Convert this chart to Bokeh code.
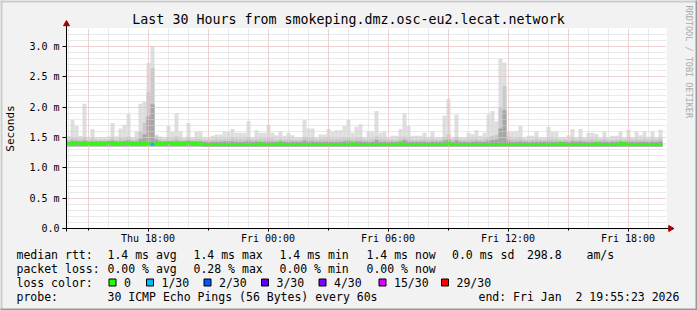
import datetime as dt
import math
from bokeh.plotting import figure
from bokeh.models import (Range1d, FixedTicker, CustomJSTickFormatter, Grid, ColumnDataSource)
from bokeh.core.properties import value
from bokeh.embed import file_html
from bokeh.resources import INLINE

# ---------------- data ----------------
TITLE = "Last 30 Hours from smokeping.dmz.osc-eu2.lecat.network"
Y_LABEL = "Seconds"
WATERMARK = "RRDTOOL / TOBI OETIKER"
START = dt.datetime(2026, 1, 1, 13, 55, 23)
END = dt.datetime(2026, 1, 2, 19, 55, 23)
STEP_MINUTES = 12

x_tick_times = ["2026-01-01 18:00", "2026-01-02 00:00", "2026-01-02 06:00",
                "2026-01-02 12:00", "2026-01-02 18:00"]
x_tick_labels = ["Thu 18:00", "Fri 00:00", "Fri 06:00", "Fri 12:00", "Fri 18:00"]
y_ticks = [0.0, 0.5, 1.0, 1.5, 2.0, 2.5, 3.0]
y_tick_labels = ["0.0", "0.5 m", "1.0 m", "1.5 m", "2.0 m", "2.5 m", "3.0 m"]

# milliseconds, one value per 12-minute step
rtt_max = [
    1.53, 1.79, 1.69, 1.53, 2.06, 1.50, 1.64, 1.50, 1.50, 1.50,
    1.52, 1.74, 1.52, 1.65, 1.71, 1.89, 1.50, 1.60, 2.06, 2.09,
    2.73, 3.01, 1.55, 1.52, 1.50, 1.69, 1.60, 1.90, 1.60, 1.50,
    1.74, 1.50, 1.60, 1.60, 1.50, 1.50, 1.53, 1.55, 1.55, 1.60,
    1.60, 1.64, 1.58, 1.58, 1.58, 1.77, 1.50, 1.62, 1.58, 1.58,
    1.71, 1.58, 1.54, 1.60, 1.53, 1.58, 1.54, 1.50, 1.50, 1.79,
    1.65, 1.65, 1.50, 1.55, 1.55, 1.64, 1.60, 1.62, 1.62, 1.69,
    1.79, 1.58, 1.68, 1.72, 1.50, 1.60, 1.60, 1.94, 1.58, 1.60,
    1.50, 1.53, 1.53, 1.64, 1.90, 1.69, 1.53, 1.53, 1.53, 1.58,
    1.50, 1.60, 1.51, 1.51, 1.86, 2.14, 1.50, 1.88, 1.50, 1.50,
    1.58, 1.56, 1.62, 1.53, 1.58, 1.88, 1.94, 1.77, 2.80, 2.74,
    1.60, 1.60, 1.60, 1.69, 1.50, 1.53, 1.53, 1.60, 1.50, 1.50,
    1.68, 1.60, 1.60, 1.50, 1.50, 1.54, 1.64, 1.50, 1.64, 1.50,
    1.58, 1.58, 1.56, 1.50, 1.60, 1.50, 1.53, 1.53, 1.60, 1.50,
    1.63, 1.50, 1.60, 1.54, 1.60, 1.50, 1.60, 1.50, 1.63,
]
rtt_p80 = [
    1.48, 1.50, 1.49, 1.48, 1.51, 1.47, 1.49, 1.47, 1.47, 1.47,
    1.47, 1.50, 1.47, 1.49, 1.49, 1.52, 1.47, 1.48, 1.60, 1.75,
    2.25, 2.65, 1.52, 1.48, 1.47, 1.49, 1.48, 1.52, 1.48, 1.47,
    1.50, 1.47, 1.48, 1.48, 1.47, 1.47, 1.47, 1.48, 1.48, 1.48,
    1.48, 1.49, 1.48, 1.48, 1.48, 1.50, 1.47, 1.48, 1.48, 1.48,
    1.49, 1.48, 1.47, 1.48, 1.47, 1.48, 1.47, 1.47, 1.47, 1.50,
    1.49, 1.49, 1.47, 1.48, 1.48, 1.49, 1.48, 1.48, 1.48, 1.49,
    1.50, 1.48, 1.49, 1.49, 1.47, 1.48, 1.48, 1.52, 1.48, 1.48,
    1.47, 1.47, 1.47, 1.49, 1.52, 1.49, 1.47, 1.47, 1.47, 1.48,
    1.47, 1.48, 1.47, 1.47, 1.51, 1.55, 1.47, 1.51, 1.47, 1.47,
    1.48, 1.48, 1.48, 1.47, 1.48, 1.51, 1.53, 1.55, 2.00, 2.35,
    1.52, 1.48, 1.48, 1.49, 1.47, 1.47, 1.47, 1.48, 1.47, 1.47,
    1.49, 1.48, 1.48, 1.47, 1.47, 1.47, 1.49, 1.47, 1.49, 1.47,
    1.48, 1.48, 1.48, 1.47, 1.48, 1.47, 1.47, 1.47, 1.48, 1.47,
    1.49, 1.47, 1.48, 1.47, 1.48, 1.47, 1.48, 1.47, 1.49,
]
rtt_p65 = [
    1.44, 1.45, 1.44, 1.44, 1.45, 1.44, 1.44, 1.44, 1.44, 1.44,
    1.44, 1.45, 1.44, 1.44, 1.44, 1.46, 1.44, 1.44, 1.48, 1.55,
    1.85, 2.05, 1.47, 1.44, 1.44, 1.44, 1.44, 1.45, 1.44, 1.44,
    1.45, 1.44, 1.44, 1.44, 1.43, 1.43, 1.43, 1.43, 1.43, 1.44,
    1.44, 1.44, 1.43, 1.43, 1.43, 1.45, 1.43, 1.44, 1.43, 1.43,
    1.44, 1.43, 1.43, 1.44, 1.43, 1.43, 1.43, 1.43, 1.43, 1.45,
    1.44, 1.44, 1.43, 1.43, 1.43, 1.44, 1.43, 1.43, 1.43, 1.44,
    1.45, 1.43, 1.44, 1.44, 1.43, 1.43, 1.43, 1.46, 1.43, 1.43,
    1.43, 1.43, 1.43, 1.44, 1.46, 1.44, 1.43, 1.43, 1.43, 1.43,
    1.43, 1.43, 1.43, 1.43, 1.45, 1.47, 1.43, 1.45, 1.43, 1.43,
    1.43, 1.43, 1.44, 1.43, 1.43, 1.45, 1.46, 1.47, 1.65, 1.95,
    1.45, 1.43, 1.43, 1.44, 1.43, 1.43, 1.43, 1.43, 1.43, 1.43,
    1.44, 1.43, 1.43, 1.43, 1.43, 1.43, 1.44, 1.43, 1.44, 1.43,
    1.43, 1.43, 1.43, 1.43, 1.43, 1.43, 1.43, 1.43, 1.44, 1.43,
    1.44, 1.43, 1.43, 1.43, 1.43, 1.43, 1.43, 1.43, 1.44,
]
rtt_median = [
    1.40, 1.40, 1.415, 1.40, 1.40, 1.40, 1.40, 1.40, 1.40, 1.40,
    1.415, 1.40, 1.40, 1.40, 1.415, 1.40, 1.40, 1.40, 1.40, 1.40,
    1.40, 1.39, 1.40, 1.40, 1.40, 1.415, 1.40, 1.40, 1.40, 1.40,
    1.415, 1.40, 1.40, 1.40, 1.387, 1.387, 1.387, 1.387, 1.387, 1.387,
    1.387, 1.387, 1.387, 1.387, 1.387, 1.387, 1.387, 1.387, 1.40, 1.387,
    1.387, 1.387, 1.387, 1.40, 1.387, 1.387, 1.387, 1.387, 1.387, 1.387,
    1.387, 1.387, 1.387, 1.387, 1.387, 1.387, 1.387, 1.387, 1.387, 1.387,
    1.387, 1.40, 1.387, 1.387, 1.387, 1.387, 1.387, 1.387, 1.387, 1.387,
    1.387, 1.387, 1.387, 1.40, 1.387, 1.387, 1.387, 1.387, 1.387, 1.387,
    1.387, 1.387, 1.387, 1.387, 1.387, 1.40, 1.387, 1.387, 1.387, 1.387,
    1.387, 1.387, 1.387, 1.387, 1.387, 1.387, 1.387, 1.387, 1.387, 1.387,
    1.387, 1.387, 1.387, 1.387, 1.387, 1.387, 1.387, 1.387, 1.387, 1.387,
    1.387, 1.387, 1.387, 1.40, 1.387, 1.387, 1.387, 1.387, 1.387, 1.387,
    1.387, 1.387, 1.40, 1.387, 1.387, 1.387, 1.387, 1.387, 1.40, 1.40,
    1.387, 1.387, 1.387, 1.387, 1.387, 1.387, 1.387, 1.387, 1.387,
]
rtt_min = [
    1.355, 1.355, 1.355, 1.355, 1.355, 1.355, 1.355, 1.355, 1.355, 1.355,
    1.355, 1.355, 1.355, 1.355, 1.355, 1.355, 1.355, 1.355, 1.355, 1.355,
    1.355, 1.355, 1.355, 1.355, 1.355, 1.355, 1.355, 1.355, 1.355, 1.355,
    1.355, 1.355, 1.355, 1.355, 1.350, 1.350, 1.350, 1.350, 1.350, 1.350,
    1.350, 1.350, 1.350, 1.350, 1.350, 1.350, 1.350, 1.350, 1.350, 1.350,
    1.350, 1.350, 1.350, 1.350, 1.350, 1.350, 1.350, 1.350, 1.350, 1.350,
    1.350, 1.350, 1.350, 1.350, 1.350, 1.350, 1.350, 1.350, 1.350, 1.350,
    1.350, 1.350, 1.350, 1.350, 1.350, 1.350, 1.350, 1.350, 1.350, 1.350,
    1.350, 1.350, 1.350, 1.350, 1.350, 1.350, 1.350, 1.350, 1.350, 1.350,
    1.350, 1.350, 1.350, 1.350, 1.350, 1.350, 1.350, 1.350, 1.350, 1.350,
    1.350, 1.350, 1.350, 1.350, 1.350, 1.350, 1.350, 1.350, 1.350, 1.350,
    1.350, 1.350, 1.350, 1.350, 1.350, 1.350, 1.350, 1.350, 1.350, 1.350,
    1.350, 1.350, 1.350, 1.350, 1.350, 1.350, 1.350, 1.350, 1.350, 1.350,
    1.350, 1.350, 1.350, 1.350, 1.350, 1.350, 1.350, 1.350, 1.350, 1.350,
    1.350, 1.350, 1.350, 1.350, 1.350, 1.350, 1.350, 1.350, 1.350,
]
loss_count = [
    0, 0, 0, 0, 0, 0, 0, 0, 0, 0,
    0, 0, 0, 0, 0, 0, 0, 0, 0, 0,
    0, 1, 0, 0, 0, 0, 0, 0, 0, 0,
    0, 0, 0, 0, 0, 0, 0, 0, 0, 0,
    0, 0, 0, 0, 0, 0, 0, 0, 0, 0,
    0, 0, 0, 0, 0, 0, 0, 0, 0, 0,
    0, 0, 0, 0, 0, 0, 0, 0, 0, 0,
    0, 0, 0, 0, 0, 0, 0, 0, 0, 0,
    0, 0, 0, 0, 0, 0, 0, 0, 0, 0,
    0, 0, 0, 0, 0, 0, 0, 0, 0, 0,
    0, 0, 0, 0, 0, 0, 0, 0, 0, 0,
    0, 0, 0, 0, 0, 0, 0, 0, 0, 0,
    0, 0, 0, 0, 0, 0, 0, 0, 0, 0,
    0, 0, 0, 0, 0, 0, 0, 0, 0, 0,
    0, 0, 0, 0, 0, 0, 0, 0, 0,
]

loss_levels = [0, 1, 2, 3, 4, 15, 29]
loss_labels = ["0", "1/30", "2/30", "3/30", "4/30", "15/30", "29/30"]
loss_colors = ["#26ff00", "#00b8ff", "#0059ff", "#5e00ff", "#7e00ff", "#dd00ff", "#ff0000"]

stats_rtt = ["1.4 ms avg", "1.4 ms max", "1.4 ms min", "1.4 ms now", "0.0 ms sd", "298.8", "am/s"]
stats_loss = ["0.00 % avg", "0.28 % max", "0.00 % min", "0.00 % now"]
probe_text = "30 ICMP Echo Pings (56 Bytes) every 60s"
end_text = "end: Fri Jan  2 19:55:23 2026"

# ---------------- layout constants ----------------
W, H = 697, 310
FL, FR, FT, FB = 66, 666, 28, 228          # frame edges in pixels
Y_MAX = 3.3
CHAR_W = 6.93                              # legend monospace advance, px
EPOCH = dt.datetime(1970, 1, 1)
def ms(t):
    return (t - EPOCH).total_seconds() * 1000.0

X0, X1 = ms(START), ms(END)
def cx(px):   # canvas pixel x -> data x
    return X0 + (px - FL) * (X1 - X0) / (FR - FL)
def cy(py):   # canvas pixel y -> data y
    return (FB - py) * Y_MAX / (FB - FT)

FONT = "DejaVu Sans Mono"
n = len(rtt_max)
left = [ms(START + dt.timedelta(minutes=STEP_MINUTES * i)) for i in range(n)]
right = [ms(START + dt.timedelta(minutes=STEP_MINUTES * (i + 1))) for i in range(n)]

def loss_color(c):
    col = loss_colors[0]
    for lv, cc in zip(loss_levels, loss_colors):
        if c >= lv:
            col = cc
    return col

src = ColumnDataSource(dict(left=left, right=right, mx=rtt_max, p80=rtt_p80, p65=rtt_p65,
                            med=rtt_median, mn=rtt_min,
                            color=[loss_color(c) for c in loss_count]))

p = figure(width=W, height=H, output_backend="svg", toolbar_location=None,
           x_range=Range1d(X0, X1), y_range=Range1d(0, Y_MAX),
           x_axis_type="datetime",
           min_border_left=FL, min_border_right=W - FR, min_border_top=FT,
           min_border_bottom=H - FB,
           background_fill_color="white", border_fill_color="#f2f2f2",
           outline_line_color=None)
p.xgrid.visible = False
p.ygrid.visible = False

# smoke
p.quad(left="left", right="right", bottom="mn", top="mx", source=src,
       fill_color="#dedede", line_color=None)
p.quad(left="left", right="right", bottom="mn", top="p80", source=src,
       fill_color="#c9c9c9", line_color=None)
p.quad(left="left", right="right", bottom="mn", top="p65", source=src,
       fill_color="#a6a6a6", line_color=None)

# grids (dotted, drawn over the smoke)
hour_ticks = []
three_hour_ticks = []
t = dt.datetime(2026, 1, 1, 14, 0)
while t <= END:
    hour_ticks.append(ms(t))
    if t.hour % 3 == 0:
        three_hour_ticks.append(ms(t))
    t += dt.timedelta(hours=1)
y_minor = [round(0.1 * k, 1) for k in range(0, 34)]

GRID_GRAY = "#d4d4d4"
GRID_RED = "#f4b8b8"
for ticks, color in ((hour_ticks, GRID_GRAY), (three_hour_ticks, GRID_RED)):
    p.add_layout(Grid(dimension=0, ticker=FixedTicker(ticks=ticks), grid_line_color=color,
                      grid_line_dash="1 1", grid_line_width=1, level="guide"))
for ticks, color in ((y_minor, GRID_GRAY), (y_ticks, GRID_RED)):
    p.add_layout(Grid(dimension=1, ticker=FixedTicker(ticks=ticks), grid_line_color=color,
                      grid_line_dash="1 1", grid_line_width=1, level="guide"))

# median line coloured by loss
p.segment(x0="left", x1="right", y0="med", y1="med", source=src, line_color="color",
          line_width=3, line_cap="butt", level="overlay")

# axes
x_ticks_ms = [ms(dt.datetime.strptime(s, "%Y-%m-%d %H:%M")) for s in x_tick_times]
p.xaxis.ticker = FixedTicker(ticks=x_ticks_ms, minor_ticks=three_hour_ticks)
p.xaxis.formatter = CustomJSTickFormatter(args=dict(tvals=x_ticks_ms, tlabels=x_tick_labels), code="""
const i = tvals.findIndex(t => Math.abs(t - tick) < 1);
return i >= 0 ? tlabels[i] : '';
""")
p.yaxis.ticker = FixedTicker(ticks=y_ticks, minor_ticks=y_minor)
p.yaxis.formatter = CustomJSTickFormatter(args=dict(tvals=y_ticks, tlabels=y_tick_labels), code="""
const i = tvals.findIndex(t => Math.abs(t - tick) < 1e-6);
return i >= 0 ? tlabels[i] : '';
""")
for ax in (p.xaxis[0], p.yaxis[0]):
    ax.axis_line_color = None
    ax.major_tick_line_color = "black"
    ax.minor_tick_line_color = "black"
    ax.major_tick_in = 0
    ax.minor_tick_in = 0
    ax.major_label_text_font = FONT
    ax.major_label_text_font_size = "10px"
    ax.major_label_text_color = "black"
p.xaxis.major_tick_out = 3
p.xaxis.minor_tick_out = 2
p.xaxis.major_label_standoff = 1
p.yaxis.major_tick_out = 4
p.yaxis.minor_tick_out = 0
p.yaxis.major_label_standoff = 3

# ---- items outside the frame: glyphs at overlay level (not clipped) ----
def text(px, py, s, size="11.5px", align="left", color="black", angle=0.0):
    p.text(x=[cx(px)], y=[cy(py)], text=[s], text_font=value(FONT),
           text_font_size=value(size), text_align=align, text_baseline="middle",
           text_color=color, angle=angle, level="overlay")

def box(l, r, t_, b, color, line=None):
    p.quad(left=[cx(l)], right=[cx(r)], top=[cy(t_)], bottom=[cy(b)],
           fill_color=color, line_color=line, line_width=1, level="overlay")

# axis lines and arrow heads
p.segment(x0=[cx(FL), cx(FL - 4)], y0=[cy(FB + 3), 0], x1=[cx(FL), cx(669)], y1=[cy(25), 0],
          line_color="black", line_width=1, level="overlay")
p.scatter(x=[cx(FL), cx(670)], y=[cy(23.5), 0], marker="triangle", size=6,
          angle=[0, -math.pi / 2], fill_color="#a00000", line_color="#a00000",
          level="overlay")

text(348, 19, TITLE, size="13.3px", align="center")
text(10, 128, Y_LABEL, size="11px", align="center", angle=math.pi / 2)
text(688, 5, WATERMARK, size="8.5px", color="#aaaaaa", angle=-math.pi / 2)

col_x = [107, 193, 279, 366, 451.5, 526.5, 586]
text(16, 254, "median rtt:")
for xx, s in zip(col_x, stats_rtt):
    text(xx, 254, s)
text(16, 268, "packet loss:")
for xx, s in zip(col_x, stats_loss):
    text(xx, 268, s)
text(16, 282, "loss color:")
box_x = [108.5, 146, 203.5, 261, 318.5, 378.5, 441]
for bx, lab, colr in zip(box_x, loss_labels, loss_colors):
    box(bx, bx + 7, 278.5, 285.5, colr, line="black")
    text(bx + 15, 282, lab)
text(16, 296, "probe:")
text(107, 296, probe_text)
# SVG collapses repeated spaces, so place the two runs of the end text separately
end_parts = end_text.split("  ")
text(478, 296, end_parts[0])
text(478 + (len(end_parts[0]) + 2) * CHAR_W, 296, end_parts[1])

# 3D-ish outer border
box(0, W, 0, 2, "#cbcbcb")
box(0, 2, 0, H, "#cbcbcb")
box(W - 2, W, 0, H, "#999999")
box(0, W, H - 2, H, "#999999")

open("out.html", "w").write(file_html(p, INLINE))
